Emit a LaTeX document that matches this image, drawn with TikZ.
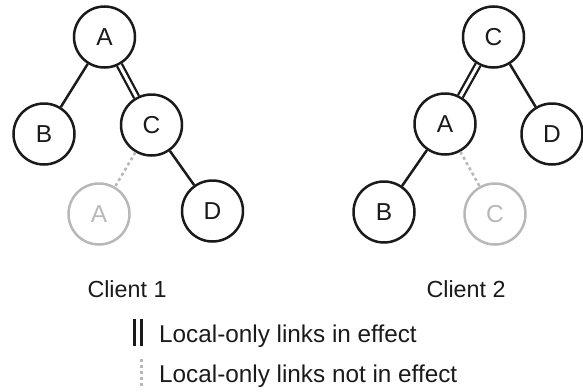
\documentclass[tikz,border=0pt]{standalone}
\usepackage{fontspec}
\setmainfont{Liberation Sans}
\begin{document}
\begin{tikzpicture}[x=1pt,y=-1pt,
  ink/.style={color={rgb,255:red,26;green,26;blue,26}},
  pale/.style={color={rgb,255:red,184;green,184;blue,184}},
  tnode/.style={circle,draw,ink,line width=2.5pt,minimum size=61pt,inner sep=0pt,font=\fontsize{24.5}{29}\selectfont},
  ghost/.style={tnode,pale},
  link/.style={draw,ink,line width=2.5pt},
  locallink/.style={draw,ink,line width=2.3pt,double=white,double distance=3pt},
  offlink/.style={draw,pale,line width=2.6pt,dash pattern=on 3pt off 3pt},
  lbl/.style={anchor=base,inner sep=0pt,ink,font=\fontsize{23.3}{28}\selectfont},
  leg/.style={anchor=base west,inner sep=0pt,ink,font=\fontsize{24.3}{29}\selectfont}]
\useasboundingbox (0,0) rectangle (583,391);
% Client 1
\node[tnode] (a1) at (104.5,37) {A};
\node[tnode] (b1) at (44,134) {B};
\node[tnode] (c1) at (151.5,125) {C};
\node[ghost] (ga1) at (99,214) {A};
\node[tnode] (d1) at (212.5,211) {D};
\draw[link] (a1) -- (b1);
\draw[locallink] (a1) -- (c1);
\draw[link] (c1) -- (d1);
\draw[offlink] (c1) -- (ga1);
% Client 2
\node[tnode] (c2) at (493.5,37) {C};
\node[tnode] (a2) at (445,124) {A};
\node[tnode] (d2) at (552,134) {D};
\node[tnode] (b2) at (384,212) {B};
\node[ghost] (gc2) at (495,214) {C};
\draw[locallink] (c2) -- (a2);
\draw[link] (c2) -- (d2);
\draw[link] (a2) -- (b2);
\draw[offlink] (a2) -- (gc2);
% labels
\node[lbl] (cl1) at (127,297) {Client 1};
\node[lbl] (cl2) at (466,297) {Client 2};
% legend
\coordinate (s1a) at (138,319);
\coordinate (s1b) at (138,346);
\coordinate (s2a) at (141.3,359);
\coordinate (s2b) at (141.3,389);
\draw[locallink,line width=2.7pt,double distance=3.8pt,line cap=butt] (s1a) -- (s1b);
\draw[offlink] (s2a) -- (s2b);
\node[leg] (l1) at (159,342) {Local-only links in effect};
\node[leg] (l2) at (159,382) {Local-only links not in effect};
\end{tikzpicture}
\end{document}
